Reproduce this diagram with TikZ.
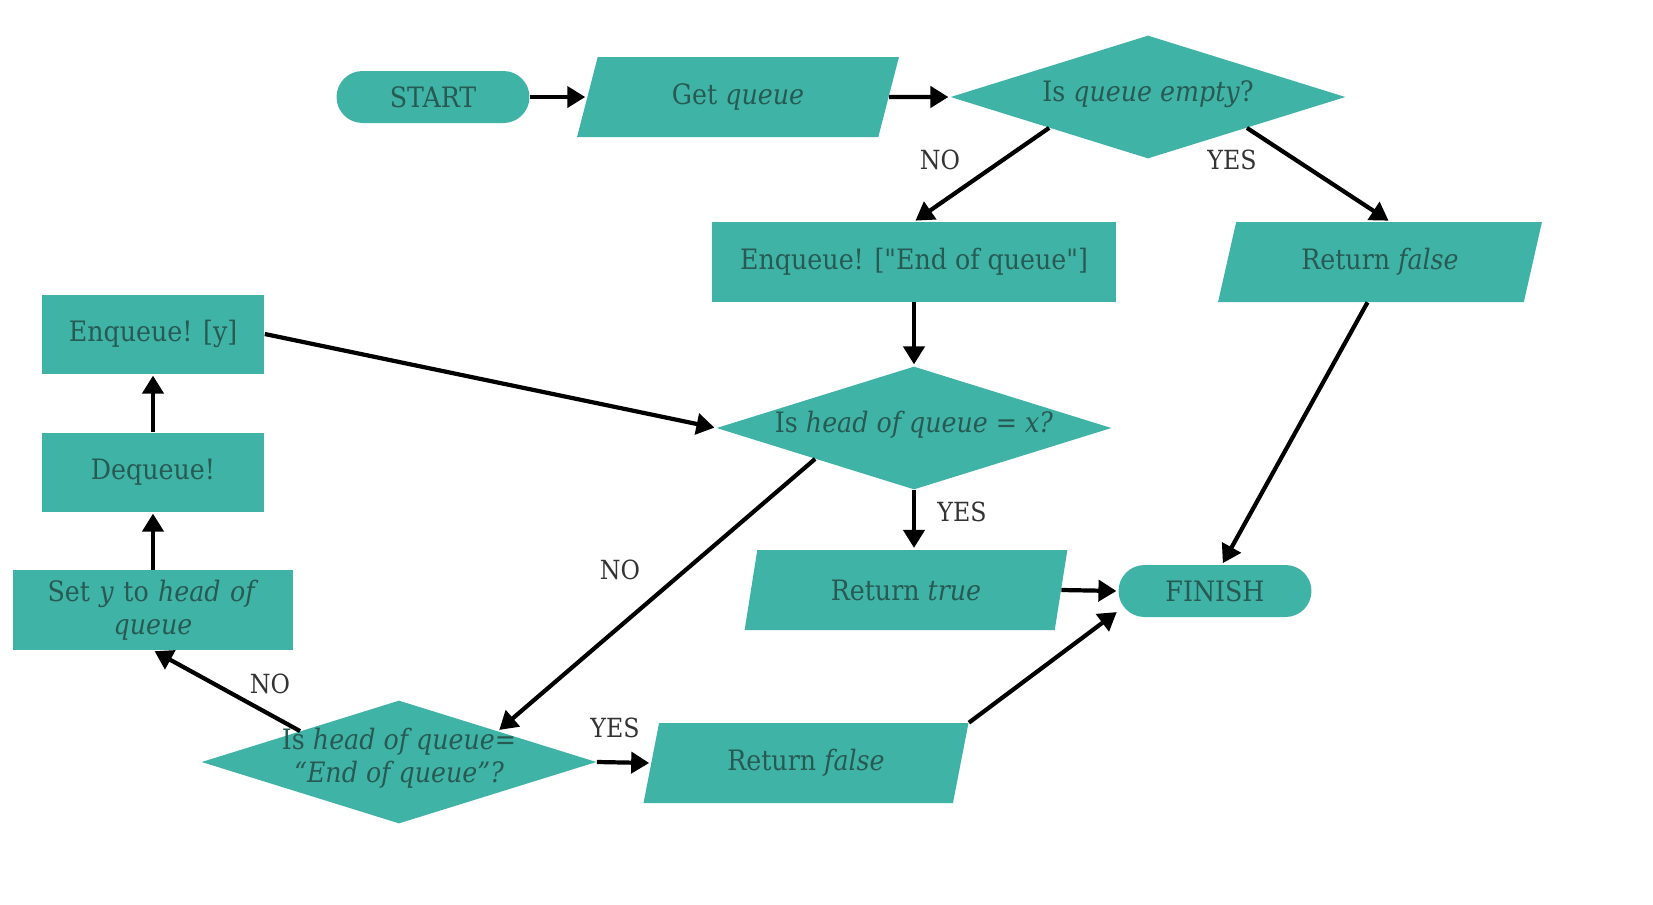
\documentclass[tikz,border=0pt]{standalone}
\usepackage{fontspec}
\setmainfont{DejaVu Serif Condensed}
\usetikzlibrary{shapes.geometric,arrows.meta,calc}
\definecolor{tealfill}{HTML}{40B3A7}
\definecolor{tealtext}{HTML}{275A53}
\definecolor{lblgray}{HTML}{333333}
\newcommand\dtext[1]{\makebox[0pt]{\smash{\raisebox{-0.35ex}{\begin{tabular}{@{}c@{}}#1\end{tabular}}}}}
\newcommand\sq{{\addfontfeature{Ligatures=TeXOff}\char"22}}
\tikzset{
  base/.style={fill=tealfill, text=tealtext, font=\fontsize{16}{19}\selectfont, inner sep=0pt},
  term/.style={base, rectangle, rounded corners=0.52cm, minimum width=3.86cm, minimum height=1.04cm},
  proc/.style={base, rectangle, minimum height=1.6cm, align=center},
  io/.style={base, trapezium, trapezium stretches=true, trapezium left angle=70, trapezium right angle=110, minimum width=6.5cm, minimum height=1.6cm},
  dec/.style={base, diamond, minimum width=7.9cm, minimum height=2.46cm},
  arr/.style={-{Triangle[length=0.36cm,width=0.42cm]}, line width=2.4pt, black, shorten >=1pt},
  lbl/.style={text=lblgray, font=\fontsize{15}{17}\selectfont}
}
\begin{document}
\begin{tikzpicture}[x=0.02cm,y=-0.02cm]
\useasboundingbox (0,0) rectangle (1653,904);
% nodes
\node[term] (start) at (433,97) {START};
\node[io] (gq) at (738,97) {Get \textit{queue}};
\node[dec] (qe) at (1148,97) {\dtext{Is \textit{queue empty}?}};
\node[proc, minimum width=8.1cm] (eq) at (914,262) {Enqueue! [\sq End of queue\sq]};
\node[io] (rf) at (1380,262) {Return \textit{false}};
\node[dec] (hq) at (914,428) {\dtext{Is \textit{head of queue} = \textit{x?}}};
\node[proc, minimum width=4.46cm, minimum height=1.58cm] (ey) at (153,334) {Enqueue! [y]};
\node[proc, minimum width=4.46cm, minimum height=1.58cm] (dq) at (153,472) {Dequeue!};
\node[proc, minimum width=5.6cm, text width=5.2cm] (sety) at (153,610) {Set \textit{y} to \textit{head of}\\\textit{queue}};
\node[io, trapezium left angle=73, trapezium right angle=107] (rt) at (906,590) {Return \textit{true}};
\node[term] (fin) at (1215,591) {FINISH};
\node[dec] (ee) at (399,762) {\dtext{Is \textit{head of queue}=\\\textit{“End of queue”?}}};
\node[io, trapezium left angle=73, trapezium right angle=107] (rfb) at (806,763) {Return \textit{false}};
% connectors
\draw[arr] (start) -- (gq);
\draw[arr] (gq) -- (qe);
\draw[arr] (qe.south west) -- (eq.north);
\draw[arr] (qe.south east) -- ([xshift=0.2cm]rf.north);
\draw[arr] (eq) -- (hq);
\draw[arr] (ey.east) -- (hq.west);
\draw[arr] (dq) -- (ey);
\draw[arr] (sety) -- (dq);
\draw[arr] (hq.south) -- (hq.south |- rt.north);
\draw[arr] (rt.east) -- (fin.west);
\draw[arr] ([xshift=-0.25cm]rf.south) -- ([xshift=0.14cm]fin.north);
\draw[arr] (hq.south west) -- (ee.north east);
\draw[arr] (ee.north west) -- (sety.south);
\draw[arr] (ee.east) -- (rfb.west);
\draw[arr] (rfb.top right corner) -- ([yshift=-0.4cm]fin.west);
% labels
\node[lbl] (l1) at (940,160) {NO};
\node[lbl] (l2) at (1232,160) {YES};
\node[lbl] (l3) at (620,570) {NO};
\node[lbl] (l4) at (962,512) {YES};
\node[lbl] (l5) at (270,684) {NO};
\node[lbl] (l6) at (615,728) {YES};
\end{tikzpicture}
\end{document}
